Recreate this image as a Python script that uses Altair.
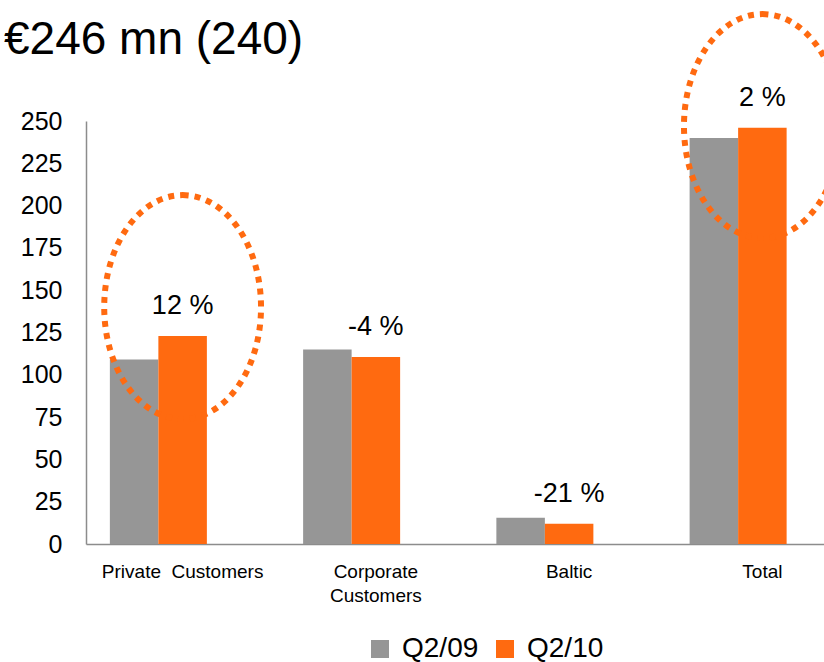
import altair as alt
import pandas as pd

# ---- data ----
categories = ["Private  Customers", "Corporate Customers", "Baltic", "Total"]
series = ["Q2/09", "Q2/10"]
q2_09 = [109, 115, 15.5, 240]
q2_10 = [123, 110.5, 12, 246]
changes = ["12 %", "-4 %", "-21 %", "2 %"]
highlight_categories = ["Private  Customers", "Total"]
highlight_y = [140, 247]
y_ticks = [0, 25, 50, 75, 100, 125, 150, 175, 200, 225, 250]
title_text = "€246 mn (240)"

GRAY = "#969696"
ORANGE = "#FF6A10"
FONT = "Liberation Sans"

rows = []
for c, a, b in zip(categories, q2_09, q2_10):
    rows.append({"category": c, "series": "Q2/09", "value": a})
    rows.append({"category": c, "series": "Q2/10", "value": b})
bars_df = pd.DataFrame(rows)

labels_df = pd.DataFrame({
    "category": categories,
    "series": ["Q2/10"] * len(categories),
    "value": q2_10,
    "label": changes,
})

hl_df = pd.DataFrame({
    "category": highlight_categories,
    "series": ["Q2/10"] * len(highlight_categories),
    "value": highlight_y,
})

title_df = pd.DataFrame({"t": [title_text]})

x_scale = alt.Scale(domain=categories, range=[0, 773],
                    paddingInner=0.247, paddingOuter=0.1235)
xoff_scale = alt.Scale(domain=["Q2/09", "Q2/10", "gap"],
                       paddingInner=0, paddingOuter=0)
y_scale = alt.Scale(domain=[0, 250], nice=False, zero=True)

x_enc = alt.X(
    "category:N", scale=x_scale, sort=categories,
    axis=alt.Axis(
        title=None, ticks=False, labelAngle=0, labelFontSize=19,
        labelFont=FONT, labelColor="#000000", labelPadding=18,
        labelLineHeight=24, domainColor="#8c8c8c", domainWidth=1.5,
        labelExpr="datum.label == 'Corporate Customers' ? ['Corporate', 'Customers'] : datum.label == 'Private  Customers' ? 'Private\u00a0 Customers' : datum.label",
    ),
)
xoff_enc = alt.XOffset("series:N", scale=xoff_scale)
y_enc = alt.Y(
    "value:Q", scale=y_scale,
    axis=alt.Axis(
        title=None, values=y_ticks, ticks=False, grid=False,
        labelFontSize=25, labelFont=FONT, labelColor="#000000",
        labelPadding=24, domainColor="#8c8c8c", domainWidth=1.5,
    ),
)

bars = alt.Chart(bars_df).mark_bar().encode(
    x=x_enc,
    xOffset=xoff_enc,
    y=y_enc,
    color=alt.Color(
        "series:N",
        scale=alt.Scale(domain=series, range=[GRAY, ORANGE]),
        legend=alt.Legend(
            orient="none", legendX=280, legendY=514, direction="horizontal",
            title=None, symbolType="square", symbolSize=324,
            symbolStrokeWidth=0, labelFontSize=28, labelFont=FONT,
            labelColor="#000000", labelOffset=8, columnPadding=12, padding=0,
        ),
    ),
)

pct = alt.Chart(labels_df).mark_text(
    fontSize=27, font=FONT, color="#000000", dy=-22,
    baseline="alphabetic", align="center",
).encode(
    x=alt.X("category:N", scale=x_scale, sort=categories),
    xOffset=alt.XOffset("series:N", scale=xoff_scale),
    y=alt.Y("value:Q", scale=y_scale),
    text="label:N",
)

k = 0.5523
rx = 0.7
ellipse_path = (
    f"M 0,-1 C {k*rx:.4f},-1 {rx},{-k:.4f} {rx},0 "
    f"C {rx},{k:.4f} {k*rx:.4f},1 0,1 "
    f"C {-k*rx:.4f},1 {-rx},{k:.4f} {-rx},0 "
    f"C {-rx},{-k:.4f} {-k*rx:.4f},-1 0,-1 Z"
)

rings = alt.Chart(hl_df).mark_point(
    shape=ellipse_path, size=50176, filled=False, stroke=ORANGE,
    strokeWidth=6, strokeDash=[6, 6], opacity=1,
).encode(
    x=alt.X("category:N", scale=x_scale, sort=categories),
    xOffset=alt.XOffset("series:N", scale=xoff_scale),
    y=alt.Y("value:Q", scale=y_scale),
)

title = alt.Chart(title_df).mark_text(
    fontSize=46, font=FONT, color="#000000", align="left",
    baseline="alphabetic",
).encode(
    x=alt.value(-82),
    y=alt.value(-67),
    text="t:N",
)

chart = alt.layer(bars, pct, rings, title).properties(
    width=738,
    height=423,
    autosize="none",
    padding={"left": 86, "top": 121, "right": 0, "bottom": 118},
    background="#ffffff",
).configure_view(stroke=None)

chart.save("out.html", embed_options={"renderer": "svg", "actions": False})
